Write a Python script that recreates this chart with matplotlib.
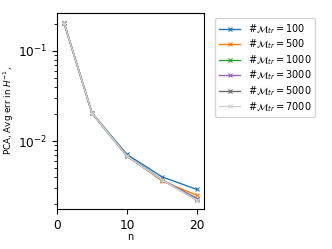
import numpy as np
import matplotlib
matplotlib.use('Agg')
import matplotlib.pyplot as plt

nList = [1, 5, 10, 15, 20]
trainSizes = [100, 500, 1000, 3000, 5000, 7000]
errList = [
    [0.206, 0.0205, 0.0071, 0.0040, 0.0029],
    [0.206, 0.0204, 0.0069, 0.0036, 0.0025],
    [0.206, 0.0204, 0.0068, 0.0037, 0.0023],
    [0.206, 0.0204, 0.0068, 0.0037, 0.0023],
    [0.206, 0.0204, 0.0068, 0.0037, 0.0022],
    [0.206, 0.0204, 0.0068, 0.0037, 0.0022],
]
colorList = ['#1f77b4', '#ff7f0e', '#2ca02c', '#9467bd', '#6e6e6e', '#d3d3d3']

fig = plt.figure(figsize=(3.32, 2.49), dpi=100)
ax = fig.add_axes([57/332, 40/249, 147/332, 196/249])
for size, err, c in zip(trainSizes, errList, colorList):
    ax.plot(nList, err, marker='x', color=c, markersize=3.5, linewidth=1.0,
            markeredgewidth=0.8, label=r'$\#\mathcal{M}_{tr} = %d$' % size)
ax.set_yscale('log')
ax.set_xlim(0, 21)
ax.set_ylim(0.00176, 0.264)
ax.set_xticks([0, 10, 20])
ax.tick_params(labelsize=8.7)
ax.set_xlabel('n', fontsize=7, labelpad=0)
ax.set_ylabel(r'PCA, Avg err in $H^{-1}$,', fontsize=6.3)
ax.yaxis.set_label_coords(-0.28, 0.5)
ax.legend(loc='upper left', bbox_to_anchor=(1.075, 0.974), fontsize=7.0,
          handlelength=2.2, labelspacing=0.18, borderpad=0.4, borderaxespad=0)
fig.savefig('out.png', dpi=100)
